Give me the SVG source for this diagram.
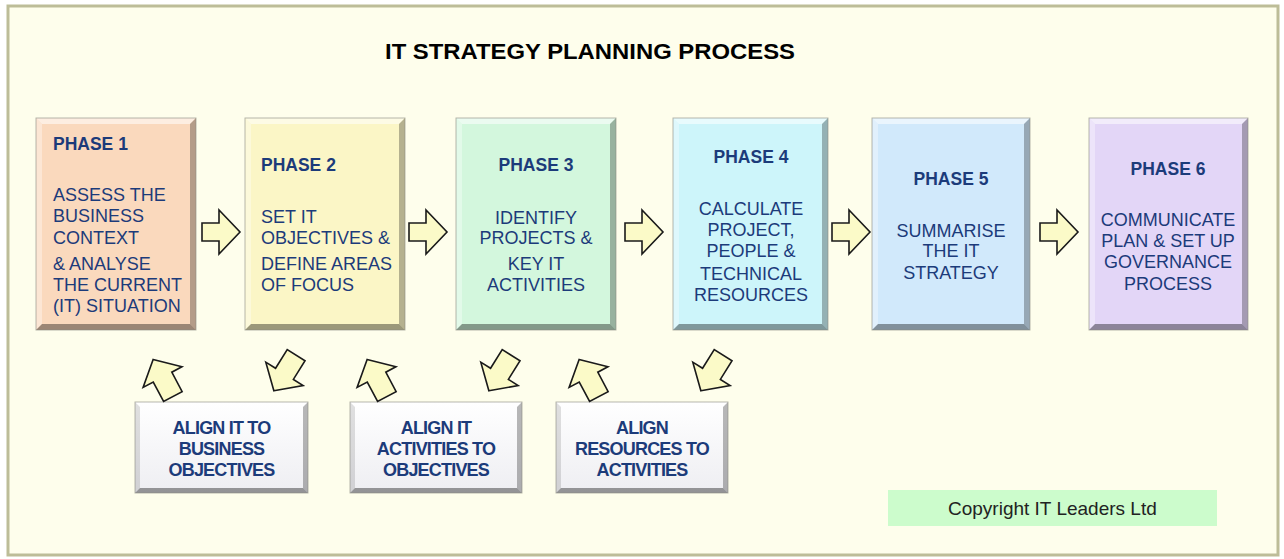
<svg xmlns="http://www.w3.org/2000/svg" width="1284" height="559" viewBox="0 0 1284 559">
<defs>
<style>
.frame{fill:#FEFEEC;stroke:#BDBD98;stroke-width:3}
.title{font-family:"Liberation Sans",Arial,sans-serif;font-weight:bold;font-size:22px;fill:#000}
.ph{font-family:"Liberation Sans",Arial,sans-serif;font-weight:bold;font-size:17.5px;fill:#1C3B7A}
.tx{font-family:"Liberation Sans",Arial,sans-serif;font-size:18px;fill:#1C3B7A}
.al{font-family:"Liberation Sans",Arial,sans-serif;font-weight:bold;font-size:18px;fill:#1C3B7A;text-anchor:middle;letter-spacing:-0.8px}
.mid{text-anchor:middle}
.lt{fill:#FFFFFF;opacity:0.55}
.lf{fill:#FFFFFF;opacity:0.35}
.rt{fill:#000000;opacity:0.28}
.bt{fill:#000000;opacity:0.38}
.edge{fill:none;stroke:#8A8A80;stroke-width:1;opacity:0.6}
.arr{fill:#FBFAC8;stroke:#1A1A1A;stroke-width:1.6;stroke-linejoin:miter}
.copy{font-family:"Liberation Sans",Arial,sans-serif;font-size:19px;fill:#222}
</style>
<linearGradient id="gw" x1="0" y1="0" x2="0" y2="1">
<stop offset="0" stop-color="#FFFFFF"/>
<stop offset="1" stop-color="#EEEEF2"/>
</linearGradient>
<path id="ra" d="M0,-9 H17 V-22 L38,0 L17,22 V9 H0 Z"/>
<path id="ua" d="M0,-21 L22,-1 L10.5,-1 L10.5,21 L-10.5,21 L-10.5,-1 L-22,-1 Z"/>
<path id="da" d="M0,21 L22,1 L10.5,1 L10.5,-21 L-10.5,-21 L-10.5,1 L-22,1 Z"/>
</defs>

<rect x="0" y="0" width="1284" height="559" fill="#FFFFFF"/>
<rect class="frame" x="8" y="6" width="1270" height="549"/>

<text class="title" x="385" y="59" textLength="410" lengthAdjust="spacingAndGlyphs">IT STRATEGY PLANNING PROCESS</text>

<g id="phase1">
<rect x="36" y="118" width="160" height="212" fill="#FAD9BD"/>
<polygon class="lt" points="36,118 196,118 190,124 42,124"/>
<polygon class="lf" points="36,118 42,124 42,324 36,330"/>
<polygon class="rt" points="196,118 196,330 190,324 190,124"/>
<polygon class="bt" points="36,330 196,330 190,324 42,324"/>
<rect class="edge" x="36" y="118" width="160" height="212"/>
<text class="ph" x="53" y="150">PHASE 1</text>
<text class="tx" x="53" y="201">ASSESS THE</text>
<text class="tx" x="53" y="222">BUSINESS</text>
<text class="tx" x="53" y="244">CONTEXT</text>
<text class="tx" x="53" y="270">&amp; ANALYSE</text>
<text class="tx" x="53" y="291">THE CURRENT</text>
<text class="tx" x="53" y="312">(IT) SITUATION</text>
</g>

<g id="phase2">
<rect x="245" y="118" width="160" height="212" fill="#FBF6C6"/>
<polygon class="lt" points="245,118 405,118 399,124 251,124"/>
<polygon class="lf" points="245,118 251,124 251,324 245,330"/>
<polygon class="rt" points="405,118 405,330 399,324 399,124"/>
<polygon class="bt" points="245,330 405,330 399,324 251,324"/>
<rect class="edge" x="245" y="118" width="160" height="212"/>
<text class="ph" x="261" y="171">PHASE 2</text>
<text class="tx" x="261" y="223">SET IT</text>
<text class="tx" x="261" y="244">OBJECTIVES &amp;</text>
<text class="tx" x="261" y="270">DEFINE AREAS</text>
<text class="tx" x="261" y="291">OF FOCUS</text>
</g>

<g id="phase3">
<rect x="456" y="118" width="160" height="212" fill="#D3F7DD"/>
<polygon class="lt" points="456,118 616,118 610,124 462,124"/>
<polygon class="lf" points="456,118 462,124 462,324 456,330"/>
<polygon class="rt" points="616,118 616,330 610,324 610,124"/>
<polygon class="bt" points="456,330 616,330 610,324 462,324"/>
<rect class="edge" x="456" y="118" width="160" height="212"/>
<text class="ph mid" x="536" y="171">PHASE 3</text>
<text class="tx mid" x="536" y="224">IDENTIFY</text>
<text class="tx mid" x="536" y="244">PROJECTS &amp;</text>
<text class="tx mid" x="536" y="270">KEY IT</text>
<text class="tx mid" x="536" y="291">ACTIVITIES</text>
</g>

<g id="phase4">
<rect x="673" y="118" width="155" height="212" fill="#CDF5FA"/>
<polygon class="lt" points="673,118 828,118 822,124 679,124"/>
<polygon class="lf" points="673,118 679,124 679,324 673,330"/>
<polygon class="rt" points="828,118 828,330 822,324 822,124"/>
<polygon class="bt" points="673,330 828,330 822,324 679,324"/>
<rect class="edge" x="673" y="118" width="155" height="212"/>
<text class="ph mid" x="751" y="163">PHASE 4</text>
<text class="tx mid" x="751" y="215">CALCULATE</text>
<text class="tx mid" x="751" y="236">PROJECT,</text>
<text class="tx mid" x="751" y="257">PEOPLE &amp;</text>
<text class="tx mid" x="751" y="280">TECHNICAL</text>
<text class="tx mid" x="751" y="301">RESOURCES</text>
</g>

<g id="phase5">
<rect x="872" y="118" width="158" height="212" fill="#D1E9FB"/>
<polygon class="lt" points="872,118 1030,118 1024,124 878,124"/>
<polygon class="lf" points="872,118 878,124 878,324 872,330"/>
<polygon class="rt" points="1030,118 1030,330 1024,324 1024,124"/>
<polygon class="bt" points="872,330 1030,330 1024,324 878,324"/>
<rect class="edge" x="872" y="118" width="158" height="212"/>
<text class="ph mid" x="951" y="185">PHASE 5</text>
<text class="tx mid" x="951" y="237">SUMMARISE</text>
<text class="tx mid" x="951" y="257">THE IT</text>
<text class="tx mid" x="951" y="279">STRATEGY</text>
</g>

<g id="phase6">
<rect x="1089" y="118" width="159" height="212" fill="#E3D6F7"/>
<polygon class="lt" points="1089,118 1248,118 1242,124 1095,124"/>
<polygon class="lf" points="1089,118 1095,124 1095,324 1089,330"/>
<polygon class="rt" points="1248,118 1248,330 1242,324 1242,124"/>
<polygon class="bt" points="1089,330 1248,330 1242,324 1095,324"/>
<rect class="edge" x="1089" y="118" width="159" height="212"/>
<text class="ph mid" x="1168" y="175">PHASE 6</text>
<text class="tx mid" x="1168" y="226">COMMUNICATE</text>
<text class="tx mid" x="1168" y="247">PLAN &amp; SET UP</text>
<text class="tx mid" x="1168" y="268">GOVERNANCE</text>
<text class="tx mid" x="1168" y="290">PROCESS</text>
</g>

<g id="alignA">
<rect x="135" y="402" width="173" height="91" fill="url(#gw)"/>
<polygon class="lf" points="135,402 308,402 303,407 140,407"/>
<polygon class="rt" points="308,402 308,493 303,488 303,407"/>
<polygon class="bt" points="135,493 308,493 303,488 140,488"/>
<polygon points="135,402 140,407 140,488 135,493" fill="#000" opacity="0.12"/>
<rect class="edge" x="135" y="402" width="173" height="91"/>
<text class="al" x="221.5" y="434">ALIGN IT TO</text>
<text class="al" x="221.5" y="455">BUSINESS</text>
<text class="al" x="221.5" y="476">OBJECTIVES</text>
</g>

<g id="alignB">
<rect x="350" y="402" width="172" height="91" fill="url(#gw)"/>
<polygon class="lf" points="350,402 522,402 517,407 355,407"/>
<polygon class="rt" points="522,402 522,493 517,488 517,407"/>
<polygon class="bt" points="350,493 522,493 517,488 355,488"/>
<polygon points="350,402 355,407 355,488 350,493" fill="#000" opacity="0.12"/>
<rect class="edge" x="350" y="402" width="172" height="91"/>
<text class="al" x="436" y="434">ALIGN  IT</text>
<text class="al" x="436" y="455">ACTIVITIES TO</text>
<text class="al" x="436" y="476">OBJECTIVES</text>
</g>

<g id="alignC">
<rect x="556" y="402" width="172" height="91" fill="url(#gw)"/>
<polygon class="lf" points="556,402 728,402 723,407 561,407"/>
<polygon class="rt" points="728,402 728,493 723,488 723,407"/>
<polygon class="bt" points="556,493 728,493 723,488 561,488"/>
<polygon points="556,402 561,407 561,488 556,493" fill="#000" opacity="0.12"/>
<rect class="edge" x="556" y="402" width="172" height="91"/>
<text class="al" x="642" y="434">ALIGN</text>
<text class="al" x="642" y="455">RESOURCES TO</text>
<text class="al" x="642" y="476">ACTIVITIES</text>
</g>

<g id="connectors">
<use href="#ra" class="arr" transform="translate(202,232)"/>
<use href="#ra" class="arr" transform="translate(409,232)"/>
<use href="#ra" class="arr" transform="translate(625,232)"/>
<use href="#ra" class="arr" transform="translate(832,232)"/>
<use href="#ra" class="arr" transform="translate(1040,232)"/>
<use href="#ua" class="arr" transform="translate(163,378) rotate(-28)"/>
<use href="#da" class="arr" transform="translate(285,373) rotate(32)"/>
<use href="#ua" class="arr" transform="translate(377,378) rotate(-28)"/>
<use href="#da" class="arr" transform="translate(500,373) rotate(32)"/>
<use href="#ua" class="arr" transform="translate(589,378) rotate(-28)"/>
<use href="#da" class="arr" transform="translate(712,373) rotate(32)"/>
</g>

<g id="copyright">
<rect x="888" y="490" width="329" height="36" fill="#CCFCCC"/>
<text class="copy" x="948" y="515">Copyright IT Leaders Ltd</text>
</g>
</svg>
